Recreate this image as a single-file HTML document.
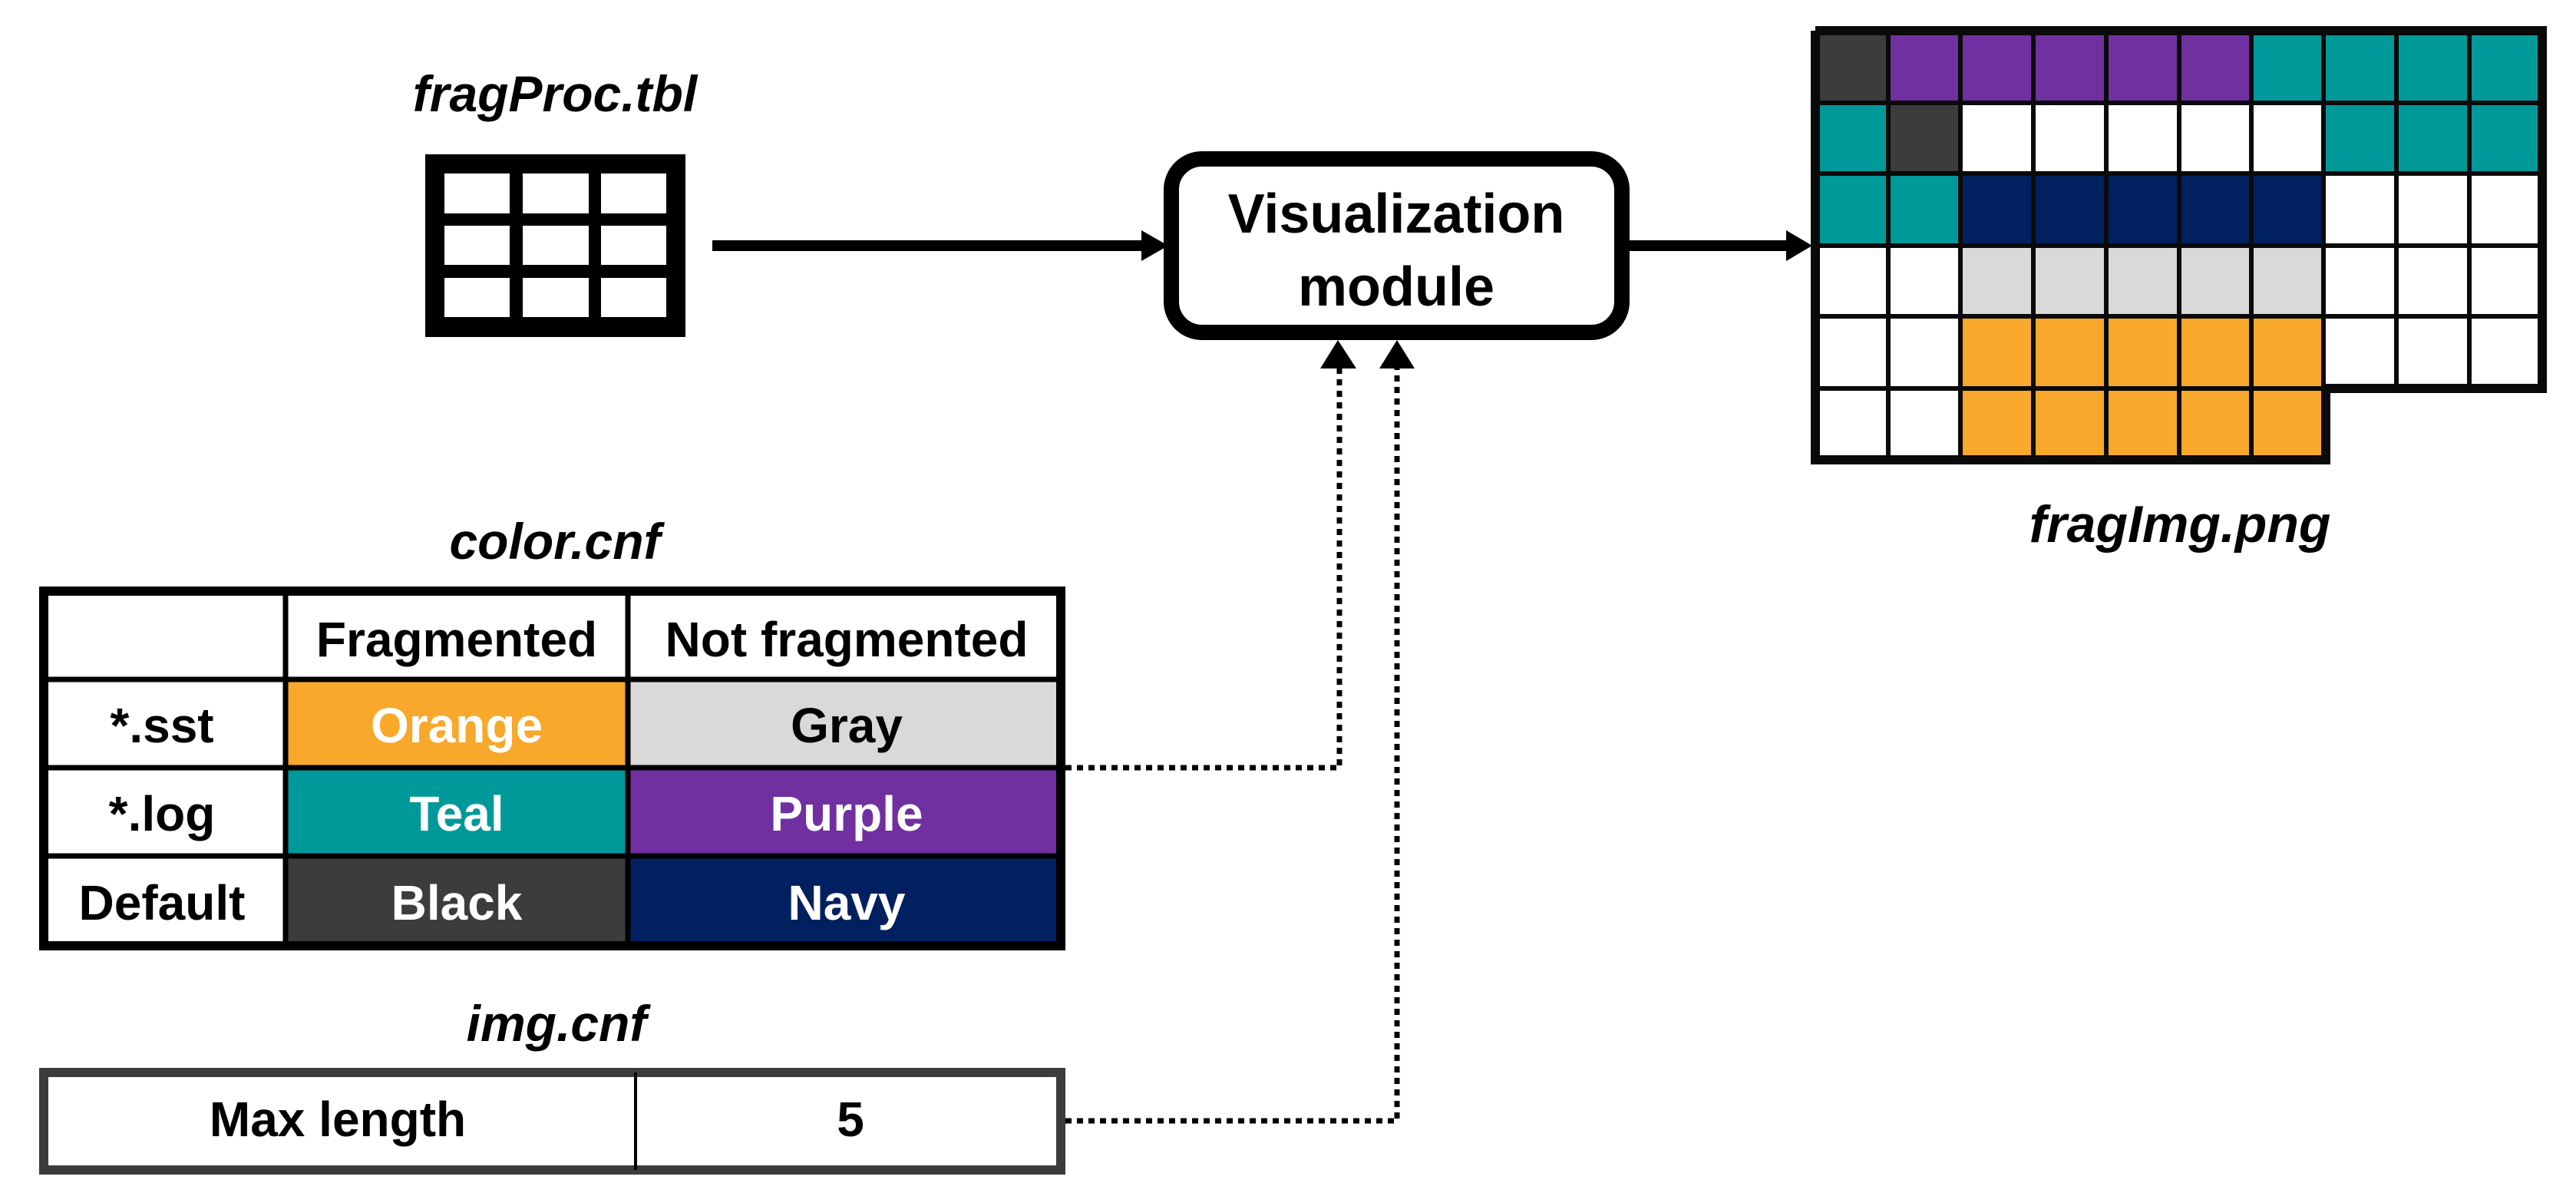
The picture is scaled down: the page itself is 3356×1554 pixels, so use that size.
<!DOCTYPE html>
<html><head><meta charset="utf-8"><style>
html,body{margin:0;padding:0;background:#fff;}
svg{display:block;}
text{font-family:"Liberation Sans",sans-serif;font-weight:bold;}
</style></head><body>
<svg width="3356" height="1554" viewBox="0 0 3356 1554" xmlns="http://www.w3.org/2000/svg">
<rect width="3356" height="1554" fill="#fff"/>
<!-- fragProc.tbl -->
<text x="723" y="145" font-size="66" font-style="italic" text-anchor="middle">fragProc.tbl</text>
<rect x="554" y="201" width="339" height="238" fill="#000"/>
<g fill="#fff">
<rect x="579" y="226" width="85" height="52"/><rect x="681" y="226" width="86" height="52"/><rect x="783" y="226" width="85" height="52"/>
<rect x="579" y="294" width="85" height="51"/><rect x="681" y="294" width="86" height="51"/><rect x="783" y="294" width="85" height="51"/>
<rect x="579" y="362" width="85" height="51"/><rect x="681" y="362" width="86" height="51"/><rect x="783" y="362" width="85" height="51"/>
</g>
<!-- arrow to module -->
<rect x="928" y="313" width="565" height="14" fill="#000"/>
<polygon points="1487,300 1522,320 1487,340" fill="#000"/>
<!-- module -->
<rect x="1526" y="207" width="587" height="226" rx="40" ry="40" fill="#fff" stroke="#000" stroke-width="20"/>
<text x="1819" y="303" font-size="72" text-anchor="middle">Visualization</text>
<text x="1819" y="398" font-size="72" text-anchor="middle">module</text>
<!-- output arrow -->
<rect x="2123" y="313" width="210" height="14" fill="#000"/>
<polygon points="2327,300 2361,320 2327,340" fill="#000"/>
<!-- dotted connectors -->
<g fill="none" stroke="#000" stroke-width="7" stroke-dasharray="8 7">
<polyline points="1388,1000 1745,1000 1745,480"/>
<polyline points="1388,1460 1820,1460 1820,480"/>
</g>
<polygon points="1720,480 1743,443 1767,480" fill="#000"/>
<polygon points="1797,480 1820,443 1843,480" fill="#000"/>
<!-- fragImg grid -->
<g>
<!-- row 0 -->
<rect x="2365" y="46" width="95" height="88" fill="#3c3c3c"/>
<rect x="2460" y="46" width="473" height="88" fill="#7030a0"/>
<rect x="2933" y="46" width="377" height="88" fill="#00999a"/>
<!-- row 1 -->
<rect x="2365" y="134" width="95" height="92" fill="#00999a"/>
<rect x="2460" y="134" width="94" height="92" fill="#3c3c3c"/>
<rect x="3027" y="134" width="283" height="92" fill="#00999a"/>
<!-- row 2 -->
<rect x="2365" y="226" width="189" height="94" fill="#00999a"/>
<rect x="2554" y="226" width="473" height="94" fill="#00205f"/>
<!-- row 3 -->
<rect x="2554" y="320" width="473" height="92" fill="#d9d9d9"/>
<!-- rows 4-5 -->
<rect x="2554" y="412" width="473" height="186" fill="#f8a82b"/>
<g stroke="#0a0a0a" stroke-width="6">
<line x1="2460" y1="40" x2="2460" y2="600"/>
<line x1="2554" y1="40" x2="2554" y2="600"/>
<line x1="2649" y1="40" x2="2649" y2="600"/>
<line x1="2744" y1="40" x2="2744" y2="600"/>
<line x1="2839" y1="40" x2="2839" y2="600"/>
<line x1="2933" y1="40" x2="2933" y2="600"/>
<line x1="3122" y1="40" x2="3122" y2="506"/>
<line x1="3217" y1="40" x2="3217" y2="506"/>
<line x1="2362" y1="134" x2="3314" y2="134"/>
<line x1="2362" y1="226" x2="3314" y2="226"/>
<line x1="2362" y1="320" x2="3314" y2="320"/>
<line x1="2362" y1="412" x2="3314" y2="412"/>
<line x1="2362" y1="506" x2="3030" y2="506"/>
</g>
<line x1="3027" y1="40" x2="3027" y2="600" stroke="#0a0a0a" stroke-width="6"/>
<polyline points="2365,40 3312,40 3312,506 3030,506 3030,599 2365,599 2365,40" fill="none" stroke="#0a0a0a" stroke-width="12"/>
</g>
<text x="2840" y="706" font-size="68" font-style="italic" text-anchor="middle">fragImg.png</text>
<!-- color.cnf -->
<text x="723" y="728" font-size="66" font-style="italic" text-anchor="middle">color.cnf</text>
<rect x="372" y="885" width="446" height="115" fill="#f8a82b"/>
<rect x="818" y="885" width="570" height="115" fill="#d9d9d9"/>
<rect x="372" y="1000" width="446" height="115" fill="#00999a"/>
<rect x="818" y="1000" width="570" height="115" fill="#7030a0"/>
<rect x="372" y="1115" width="446" height="123" fill="#3c3c3c"/>
<rect x="818" y="1115" width="570" height="123" fill="#00205f"/>
<g stroke="#000" stroke-width="7">
<line x1="372" y1="764" x2="372" y2="1238"/>
<line x1="818" y1="764" x2="818" y2="1238"/>
<line x1="51" y1="885" x2="1388" y2="885"/>
<line x1="51" y1="1000" x2="1388" y2="1000"/>
<line x1="51" y1="1115" x2="1388" y2="1115"/>
</g>
<rect x="57" y="770" width="1325" height="462" fill="none" stroke="#000" stroke-width="12"/>
<g font-size="64" text-anchor="middle">
<text x="595" y="855">Fragmented</text>
<text x="1103" y="855">Not fragmented</text>
<text x="211" y="967">*.sst</text>
<text x="595" y="967" fill="#fff">Orange</text>
<text x="1103" y="967">Gray</text>
<text x="211" y="1082">*.log</text>
<text x="595" y="1082" fill="#fff">Teal</text>
<text x="1103" y="1082" fill="#fff">Purple</text>
<text x="211" y="1198">Default</text>
<text x="595" y="1198" fill="#fff">Black</text>
<text x="1103" y="1198" fill="#fff">Navy</text>
</g>
<!-- img.cnf -->
<text x="725" y="1356" font-size="66" font-style="italic" text-anchor="middle">img.cnf</text>
<rect x="57" y="1397" width="1325" height="127" fill="#fff" stroke="#3c3c3c" stroke-width="12"/>
<line x1="828" y1="1397" x2="828" y2="1524" stroke="#000" stroke-width="4"/>
<text x="440" y="1480" font-size="64" text-anchor="middle">Max length</text>
<text x="1108" y="1480" font-size="64" text-anchor="middle">5</text>
</svg>
</body></html>
